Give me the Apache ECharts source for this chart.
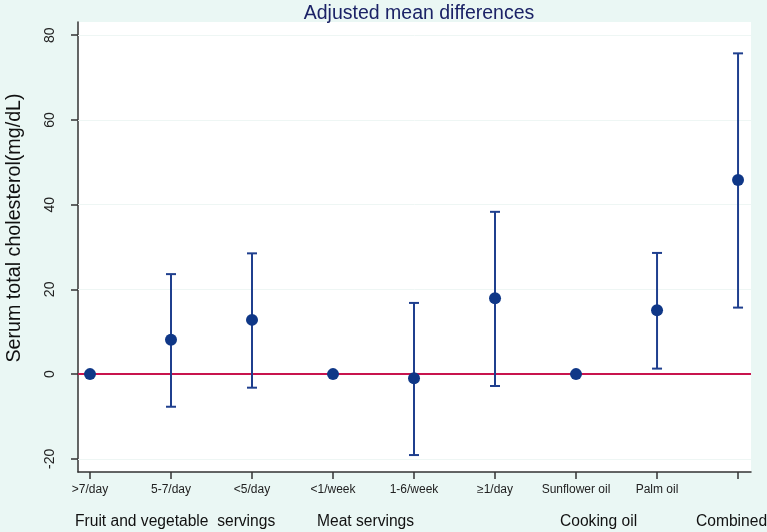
<!DOCTYPE html>
<html>
<head>
<meta charset="utf-8">
<script src="https://cdn.jsdelivr.net/npm/echarts@6/dist/echarts.min.js"></script>
<style>
html,body{margin:0;padding:0;background:#eaf7f4;}
#c{width:767px;height:532px;}
</style>
</head>
<body>
<div id="c"></div>
<script>
var categories = [">7/day", "5-7/day", "<5/day", "<1/week", "1-6/week", "\u22651/day", "Sunflower oil", "Palm oil", ""];
var estimates = [0, 8.1, 12.8, 0, -1.0, 17.9, 0, 15.1, 45.8];
var lowerCI = [null, -7.7, -3.2, null, -19.1, -2.8, null, 1.3, 15.7];
var upperCI = [null, 23.6, 28.5, null, 16.8, 38.3, null, 28.6, 75.7];
var yTicks = [-20, 0, 20, 40, 60, 80];
var groupLabels = ["Fruit and vegetable  servings", "Meat servings", "Cooking oil", "Combined"];

var FONT = "'Liberation Sans', Arial, Helvetica, sans-serif";
var xs = categories.map(function (c, i) { return i + 1; });

var pointData = estimates.map(function (v, i) { return [xs[i], v]; });
var barData = [];
for (var i = 0; i < estimates.length; i++) {
  if (lowerCI[i] !== null) barData.push([xs[i], lowerCI[i], upperCI[i]]);
}

var chart = echarts.init(document.getElementById('c'), null, {renderer: 'canvas'});
chart.setOption({
  backgroundColor: '#eaf7f4',
  animation: false,
  title: {
    text: 'Adjusted mean differences',
    left: 414,
    top: -1,
    textAlign: 'center',
    textStyle: {fontFamily: FONT, fontSize: 19.5, fontWeight: 'normal', color: '#1b2266'}
  },
  grid: {left: 78, right: 16, top: 22, bottom: 60, show: true, backgroundColor: '#ffffff', borderWidth: 0},
  xAxis: {
    type: 'value', min: 0.852, max: 9.16,
    axisLine: {show: true, onZero: false, lineStyle: {color: '#333333', width: 1.5}},
    axisTick: {show: true, length: 7, customValues: xs, lineStyle: {color: '#333333', width: 1.5}},
    axisLabel: {
      customValues: xs, margin: 12,
      formatter: function (v) { return categories[Math.round(v) - 1] || ''; },
      fontFamily: FONT, fontSize: 12, color: '#222222'
    },
    splitLine: {show: false}
  },
  yAxis: {
    type: 'value', min: -23.1, max: 83.1,
    axisLine: {show: true, lineStyle: {color: '#333333', width: 1.5}},
    axisTick: {show: true, length: 7, customValues: yTicks, lineStyle: {color: '#333333', width: 1.5}},
    axisLabel: {customValues: yTicks, rotate: 90, margin: 21, fontFamily: FONT, fontSize: 14, color: '#222222'},
    splitLine: {show: false}
  },
  graphic: [
    {type: 'text', x: 15, y: 228, rotation: Math.PI / 2,
      style: {text: 'Serum total cholesterol(mg/dL)', fontFamily: FONT, fontSize: 19.7, fill: '#111111', align: 'center', verticalAlign: 'middle'}},
    {type: 'text', x: 75, y: 522, style: {text: groupLabels[0], fontFamily: FONT, fontSize: 15.6, fill: '#111111', align: 'left', verticalAlign: 'middle'}},
    {type: 'text', x: 317, y: 522, style: {text: groupLabels[1], fontFamily: FONT, fontSize: 15.6, fill: '#111111', align: 'left', verticalAlign: 'middle'}},
    {type: 'text', x: 560, y: 522, style: {text: groupLabels[2], fontFamily: FONT, fontSize: 15.6, fill: '#111111', align: 'left', verticalAlign: 'middle'}},
    {type: 'text', x: 696, y: 522, style: {text: groupLabels[3], fontFamily: FONT, fontSize: 15.6, fill: '#111111', align: 'left', verticalAlign: 'middle'}}
  ],
  series: [
    {
      type: 'line', data: [], z: 1, silent: true,
      markLine: {
        z: 1, silent: true, symbol: 'none', label: {show: false},
        lineStyle: {color: '#eef6f4', width: 1, type: 'solid'},
        data: yTicks.map(function (t) { return {yAxis: t}; })
      }
    },
    {
      type: 'line', data: [], z: 2, silent: true,
      markLine: {
        z: 2, silent: true, symbol: 'none', label: {show: false},
        lineStyle: {color: '#c8144e', width: 2, type: 'solid'},
        data: [{yAxis: 0}]
      }
    },
    {
      type: 'custom', z: 3, silent: true,
      data: barData,
      renderItem: function (params, api) {
        var x = api.value(0);
        var lo = api.coord([x, api.value(1)]);
        var hi = api.coord([x, api.value(2)]);
        var hw = 5;
        var st = {stroke: '#1f3f8e', lineWidth: 2};
        return {type: 'group', children: [
          {type: 'line', shape: {x1: lo[0], y1: lo[1], x2: hi[0], y2: hi[1]}, style: st},
          {type: 'line', shape: {x1: lo[0] - hw, y1: lo[1], x2: lo[0] + hw, y2: lo[1]}, style: st},
          {type: 'line', shape: {x1: hi[0] - hw, y1: hi[1], x2: hi[0] + hw, y2: hi[1]}, style: st}
        ]};
      }
    },
    {
      type: 'scatter', z: 4, data: pointData, symbol: 'circle', symbolSize: 12,
      itemStyle: {color: '#0f3787', opacity: 1}
    }
  ]
});
</script>
</body>
</html>
